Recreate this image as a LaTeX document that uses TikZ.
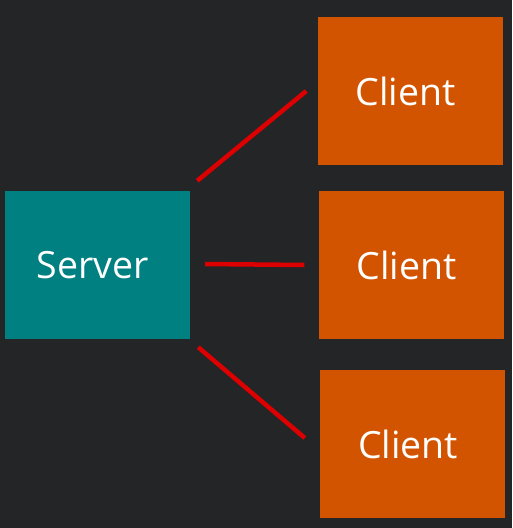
\documentclass[tikz,border=0pt]{standalone}
\usepackage{fontspec}
\setmainfont{Open Sans}
\usetikzlibrary{calc}
\definecolor{bg}{HTML}{232527}
\definecolor{teal}{HTML}{008080}
\definecolor{orng}{HTML}{D35400}
\definecolor{lnred}{HTML}{DD0000}
\newcommand{\lbltxt}[1]{\kern-9pt#1}
\tikzset{
  box/.style={draw=none,minimum width=185pt,minimum height=148pt,inner sep=0pt,text=white,font=\fontsize{37.5}{44}\selectfont},
  srv/.style={box,fill=teal},
  cli/.style={box,fill=orng},
  link/.style={draw=lnred,line width=4.5pt}
}
\begin{document}
\begin{tikzpicture}[x=1pt,y=-1pt]
\fill[bg] (0,0) rectangle (512,528);
\useasboundingbox (0,0) rectangle (512,528);
\node[srv] (server) at (97.5,265) {\lbltxt{Server}};
\node[cli] (c1) at (410,91) {\lbltxt{Client}};
\node[cli] (c2) at (411,265) {\lbltxt{Client}};
\node[cli] (c3) at (412.5,444) {\lbltxt{Client}};
\coordinate (s1) at ($(server.north east)+(7,-10)$);
\coordinate (s2) at ($(server.east)+(15,-1)$);
\coordinate (s3) at ($(server.south east)+(8,8)$);
\coordinate (e1) at ($(c1.west)+(-11,0)$);
\coordinate (e2) at ($(c2.west)+(-14,0)$);
\coordinate (e3) at ($(c3.west)+(-15,-6)$);
\draw[link] (s1) -- (e1);
\draw[link] (s2) -- (e2);
\draw[link] (s3) -- (e3);
\end{tikzpicture}
\end{document}
